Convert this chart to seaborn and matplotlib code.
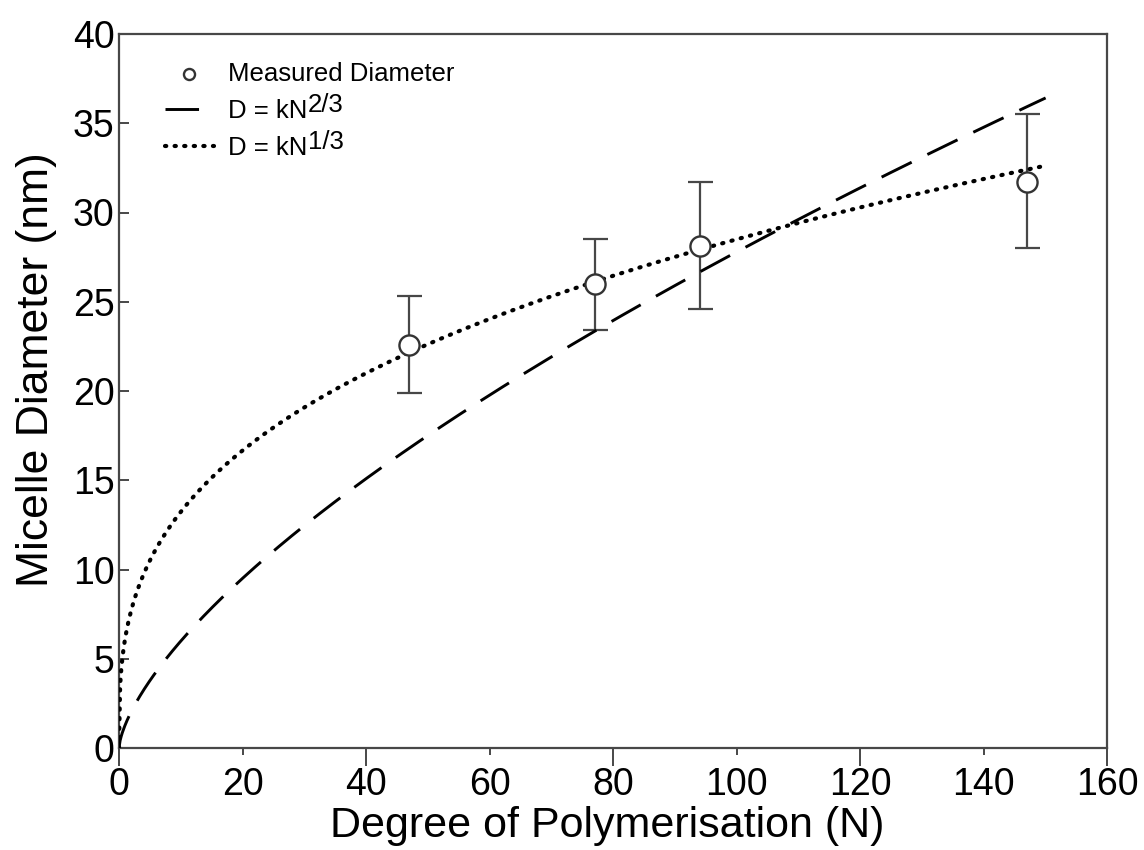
import numpy as np
import pandas as pd
import matplotlib
matplotlib.use("Agg")
import matplotlib.pyplot as plt
import seaborn as sns

# Measured micelle diameters (nm) vs degree of polymerisation
dp = [47, 77, 94, 147]
diameter = [22.6, 26.0, 28.1, 31.7]
err_low = [19.9, 23.4, 24.6, 28.0]
err_high = [25.3, 28.5, 31.7, 35.5]

# Scaling-law prefactors for the two model curves
k_two_thirds = 1.29
k_one_third = 6.14
n_max = 150

x_major = [0, 40, 80, 120, 160]
x_minor = [20, 60, 100, 140]
y_ticks = [0, 5, 10, 15, 20, 25, 30, 35, 40]

legend_labels = ["Measured Diameter", "D = kN", "D = kN"]
exponents = ["2/3", "1/3"]

sns.set_theme(style="white")
plt.rcParams["font.family"] = ["Liberation Sans", "DejaVu Sans"]
for key in ["text.color", "axes.labelcolor", "xtick.color", "ytick.color"]:
    plt.rcParams[key] = "black"

fig = plt.figure(figsize=(11.44, 8.5), dpi=100)
ax = fig.add_axes([0.104, 0.12, 0.864, 0.84])

n = np.linspace(0, n_max, 800)
curves = pd.DataFrame({
    "N": n,
    "two": k_two_thirds * n ** (2 / 3),
    "one": k_one_third * n ** (1 / 3),
})
points = pd.DataFrame({"N": dp, "D": diameter})

grey = "#474747"

ax.errorbar(dp, diameter,
            yerr=[np.array(diameter) - np.array(err_low),
                  np.array(err_high) - np.array(diameter)],
            fmt="none", ecolor=grey, elinewidth=1.6, capsize=9, capthick=1.6,
            zorder=2)

sns.lineplot(data=curves, x="N", y="two", ax=ax, color="black", lw=2.1,
             linestyle=(0, (11.5, 6.0)), label="two-thirds", zorder=3)
sns.lineplot(data=curves, x="N", y="one", ax=ax, color="black", lw=3.0,
             linestyle=(0, (0.3, 2.0)), dash_capstyle="round",
             label="one-third", zorder=3)
sns.scatterplot(data=points, x="N", y="D", ax=ax, marker="o", s=210,
                facecolor="white", edgecolor="#333333", linewidth=1.7,
                label="measured", zorder=4)

ax.set_xlim(0, 160)
ax.set_ylim(0, 40)

ax.set_xticks(x_major)
ax.set_xticklabels([str(v) for v in x_major])
ax.set_xticks(x_minor, minor=True)
ax.set_xticklabels([str(v) for v in x_minor], minor=True)
ax.set_yticks(y_ticks)
ax.set_yticklabels([str(v) for v in y_ticks])

ax.tick_params(axis="x", which="major", direction="out", length=13, width=1.4,
               color=grey, labelsize=27, pad=1, bottom=True)
ax.tick_params(axis="x", which="minor", direction="out", length=5, width=1.4,
               color=grey, labelsize=27, pad=9, bottom=True)
ax.tick_params(axis="y", which="major", direction="in", length=7, width=1.4,
               color=grey, labelsize=27, pad=3, left=True)

for side in ["left", "right", "top", "bottom"]:
    ax.spines[side].set_visible(True)
    ax.spines[side].set_color(grey)
    ax.spines[side].set_linewidth(1.6)

ax.set_xlabel("Degree of Polymerisation (N)", fontsize=31)
ax.set_ylabel("Micelle Diameter (nm)", fontsize=32)
ax.yaxis.set_label_coords(-0.063, 0.53)
ax.xaxis.set_label_coords(0.494, -0.081)

handles, _ = ax.get_legend_handles_labels()
order = [2, 0, 1]
leg = ax.legend([handles[i] for i in order], legend_labels,
                loc="upper left", bbox_to_anchor=(0.036, 0.975), frameon=False,
                fontsize=18.5, handlelength=1.9, handletextpad=0.55,
                labelspacing=0.5, markerscale=0.55, borderaxespad=0)

# Exponents drawn as raised, full-size text right after each model label
fig.canvas.draw()
for txt, expo in zip(leg.get_texts()[1:], exponents):
    bb = txt.get_window_extent()
    fig.text(bb.x1 + 1, bb.y0 + 6, expo, transform=None, fontsize=18.5,
             ha="left", va="bottom", color="black")

fig.savefig("out.png", dpi=100, facecolor="white")
